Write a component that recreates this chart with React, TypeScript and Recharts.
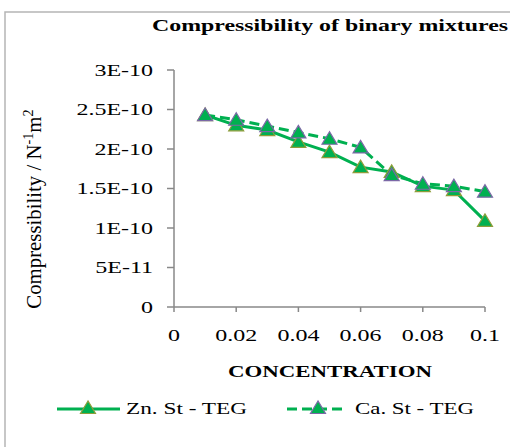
import React from "react";
import { LineChart, Line, XAxis, YAxis } from "recharts";

const concentration = [0.01, 0.02, 0.03, 0.04, 0.05, 0.06, 0.07, 0.08, 0.09, 0.1];
const znStTeg = [2.43e-10, 2.3e-10, 2.24e-10, 2.09e-10, 1.96e-10, 1.77e-10, 1.71e-10, 1.53e-10, 1.48e-10, 1.09e-10];
const caStTeg = [2.43e-10, 2.37e-10, 2.29e-10, 2.21e-10, 2.13e-10, 2.02e-10, 1.67e-10, 1.56e-10, 1.53e-10, 1.46e-10];

const xTicks = [0, 0.02, 0.04, 0.06, 0.08, 0.1];
const xTickLabels = ["0", "0.02", "0.04", "0.06", "0.08", "0.1"];
const yTicks = [0, 5e-11, 1e-10, 1.5e-10, 2e-10, 2.5e-10, 3e-10];
const yTickLabels = ["0", "5E-11", "1E-10", "1.5E-10", "2E-10", "2.5E-10", "3E-10"];

const data = concentration.map((c, i) => ({ c, zn: znStTeg[i], ca: caStTeg[i] }));

const GREEN = "#00B050";
const AXIS = "#888888";
const FONT = "'Liberation Serif', 'DejaVu Serif', serif";
const STRETCH = 1.5;

function Triangle({ cx, cy, stroke }: { cx?: number; cy?: number; stroke: string }) {
  if (cx == null || cy == null) return null;
  const pts = `${cx},${cy - 7} ${cx - 7.5},${cy + 5.5} ${cx + 7.5},${cy + 5.5}`;
  return <polygon points={pts} fill={GREEN} stroke={stroke} strokeWidth={1.2} />;
}

function YTick(props: any) {
  const { x, y, payload } = props;
  const label = yTickLabels[payload.index] ?? "";
  return (
    <g transform={`translate(${x},${y})`}>
      <text transform={`scale(${STRETCH},1)`} textAnchor="end" dy="0.355em" fontFamily={FONT} fontSize={16} fill="#000">
        {label}
      </text>
    </g>
  );
}

function XTick(props: any) {
  const { x, y, payload } = props;
  const label = xTickLabels[payload.index] ?? "";
  return (
    <g transform={`translate(${x},${y})`}>
      <text transform={`scale(${STRETCH},1)`} textAnchor="middle" dy="0.71em" fontFamily={FONT} fontSize={16} fill="#000">
        {label}
      </text>
    </g>
  );
}

export default function App() {
  return (
    <div style={{ position: "absolute", left: 0, top: 0, width: 510, height: 447, background: "#fff" }}>
      <LineChart width={510} height={447} data={data} margin={{ top: 70, right: 25, bottom: 0, left: 0 }}>
        <XAxis
          dataKey="c"
          type="number"
          domain={[0, 0.1]}
          ticks={xTicks}
          height={140}
          stroke={AXIS}
          strokeWidth={1.5}
          tickSize={5}
          tickMargin={18}
          tick={<XTick />}
          interval={0}
        />
        <YAxis
          type="number"
          domain={[0, 3e-10]}
          ticks={yTicks}
          width={174}
          stroke={AXIS}
          strokeWidth={1.5}
          tickSize={7}
          tickMargin={14}
          tick={<YTick />}
          interval={0}
        />
        <Line
          dataKey="zn"
          stroke={GREEN}
          strokeWidth={3}
          dot={<Triangle stroke="#8E9C3A" />}
          isAnimationActive={false}
        />
        <Line
          dataKey="ca"
          stroke={GREEN}
          strokeWidth={3}
          strokeDasharray="10 5"
          dot={<Triangle stroke="#7B68A6" />}
          isAnimationActive={false}
        />
      </LineChart>
      <svg width={510} height={447} style={{ position: "absolute", left: 0, top: 0, pointerEvents: "none" }}>
        <path d="M5,447 L5,12 L510,12" fill="none" stroke="#B5B5B5" strokeWidth={1.5} />
        <text x={152} y={31} textLength={356} lengthAdjust="spacingAndGlyphs" fontFamily={FONT} fontWeight="bold" fontSize={17} fill="#000">
          Compressibility of binary mixtures
        </text>
        <text x={228} y={377} textLength={204} lengthAdjust="spacingAndGlyphs" fontFamily={FONT} fontWeight="bold" fontSize={17} fill="#000">
          CONCENTRATION
        </text>
        <g transform="translate(41,209) rotate(-90) scale(1.3,1.3)">
          <text textAnchor="middle" fontFamily={FONT} fontSize={16} fill="#000">
            Compressibility / N
            <tspan dy={-6} fontSize={11}>-1</tspan>
            <tspan dy={6}>m</tspan>
            <tspan dy={-6} fontSize={11}>2</tspan>
          </text>
        </g>
        <line x1={57} y1={409} x2={120} y2={409} stroke={GREEN} strokeWidth={3} />
        <Triangle cx={88} cy={408} stroke="#8E9C3A" />
        <text x={126} y={414} textLength={121} lengthAdjust="spacingAndGlyphs" fontFamily={FONT} fontSize={16} fill="#000">
          Zn. St - TEG
        </text>
        <line x1={287} y1={409} x2={347} y2={409} stroke={GREEN} strokeWidth={3} strokeDasharray="10 5" />
        <Triangle cx={318} cy={408} stroke="#7B68A6" />
        <text x={355} y={414} textLength={119} lengthAdjust="spacingAndGlyphs" fontFamily={FONT} fontSize={16} fill="#000">
          Ca. St - TEG
        </text>
      </svg>
    </div>
  );
}
